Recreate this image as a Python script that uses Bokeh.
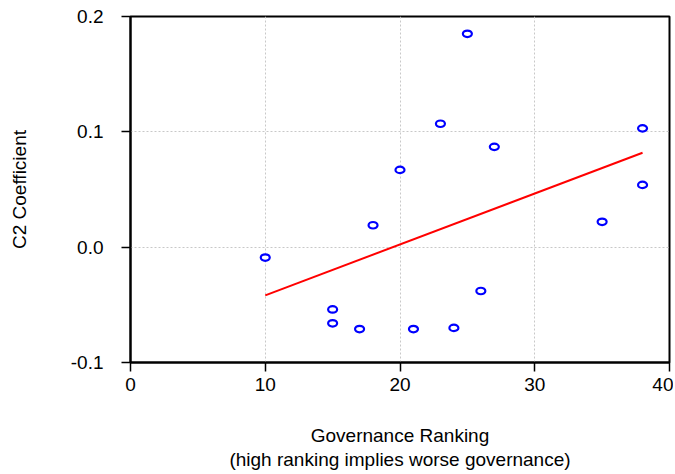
import numpy as np
from bokeh.plotting import figure
from bokeh.models import FixedTicker, Range1d, PrintfTickFormatter
from bokeh.embed import file_html
from bokeh.resources import INLINE

# Data
governance_rank = [10, 15, 15, 17, 18, 20, 21, 23, 24, 25, 26, 27, 35, 38, 38]
c2_coefficient = [-0.009, -0.054, -0.066, -0.071, 0.019, 0.067, -0.071, 0.107,
                  -0.070, 0.185, -0.038, 0.087, 0.022, 0.103, 0.054]
x_ticks = [0, 10, 20, 30, 40]
y_ticks = [-0.1, 0.0, 0.1, 0.2]

FONT = "Liberation Sans"
FS = "19px"

p = figure(width=673, height=472, output_backend="svg", toolbar_location=None,
           x_range=Range1d(0, 40), y_range=Range1d(-0.1, 0.2),
           min_border_left=130, min_border_right=4, min_border_top=16,
           min_border_bottom=110)

p.background_fill_color = "white"
p.border_fill_color = "white"
p.outline_line_color = "black"
p.outline_line_width = 2

# grid
for g in (p.xgrid, p.ygrid):
    g.grid_line_color = "#c8c8c8"
    g.grid_line_dash = "2 2"
    g.grid_line_width = 1
p.xgrid.ticker = FixedTicker(ticks=x_ticks)
p.ygrid.ticker = FixedTicker(ticks=y_ticks)

# axes
p.xaxis.ticker = FixedTicker(ticks=x_ticks)
p.yaxis.ticker = FixedTicker(ticks=y_ticks)
p.yaxis.formatter = PrintfTickFormatter(format="%.1f")
p.xaxis.formatter = PrintfTickFormatter(format="%d")
for ax in (p.xaxis, p.yaxis):
    ax.axis_line_color = "black"
    ax.axis_line_width = 2
    ax.major_tick_line_color = "black"
    ax.major_tick_line_width = 1.5
    ax.major_tick_out = 9
    ax.major_tick_in = 0
    ax.minor_tick_line_color = None
    ax.major_label_text_font = FONT
    ax.major_label_text_font_size = FS
    ax.major_label_text_color = "black"
    ax.axis_label_text_font = FONT
    ax.axis_label_text_font_size = FS
    ax.axis_label_text_font_style = "normal"
    ax.axis_label_text_color = "black"

p.yaxis.major_label_standoff = 18
p.xaxis.major_label_standoff = 6
p.yaxis.axis_label = "C2 Coefficient"
p.xaxis.axis_label = "Governance Ranking\n(high ranking implies worse governance)"
p.yaxis.axis_label_standoff = 38
p.xaxis.axis_label_standoff = 31
p.xaxis.axis_label_text_line_height = 1.15

# regression line computed from the data
slope, intercept = np.polyfit(governance_rank, c2_coefficient, 1)
xl = [min(governance_rank), max(governance_rank)]
yl = [intercept + slope * v for v in xl]
p.line(xl, yl, line_color="red", line_width=2)

# points
p.ellipse(x=governance_rank, y=c2_coefficient, width=9, height=6.5,
          width_units="screen", height_units="screen",
          fill_color="white", line_color="blue", line_width=2.2)

open("out.html", "w").write(file_html(p, INLINE))
